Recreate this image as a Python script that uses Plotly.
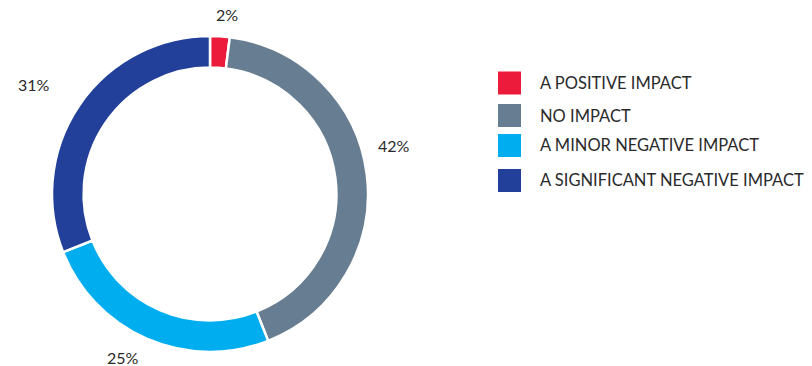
import plotly.graph_objects as go

labels = ["A POSITIVE IMPACT", "NO IMPACT", "A MINOR NEGATIVE IMPACT", "A SIGNIFICANT NEGATIVE IMPACT"]
values = [2, 42, 25, 31]
colors = ["#EC1B3B", "#677D91", "#00AEEF", "#22409A"]

W, H = 812, 366
cx, cy, R = 210, 194, 158

fig = go.Figure(go.Pie(
    labels=labels, values=values, sort=False, direction="clockwise", rotation=0,
    hole=0.80, textinfo="none", hoverinfo="label+percent",
    marker=dict(colors=colors, line=dict(color="white", width=2.5)),
    domain=dict(x=[(cx - R) / W, (cx + R) / W], y=[(H - cy - R) / H, (H - cy + R) / H]),
    showlegend=False,
))

FONT = "Lato, Open Sans, sans-serif"
# percentage label positions (pixel centres) – layout only
label_pos = [(227, 14), (394, 145), (123, 357), (34, 84)]
annotations = []
for v, (px, py) in zip(values, label_pos):
    annotations.append(dict(text=f"{v}%", x=px / W, y=1 - py / H, xref="paper", yref="paper",
                            xanchor="center", yanchor="middle", showarrow=False,
                            font=dict(family=FONT, size=16, color="#2a2a2a")))

legend_y = [83, 115.5, 145.5, 180.5]
shapes = []
for lab, col, ly in zip(labels, colors, legend_y):
    shapes.append(dict(type="rect", xref="paper", yref="paper",
                       x0=498 / W, x1=521 / W, y0=1 - (ly - 11.5) / H, y1=1 - (ly + 11.5) / H,
                       fillcolor=col, line=dict(width=0)))
    annotations.append(dict(text=lab, x=538 / W, y=1 - ly / H, xref="paper", yref="paper",
                            xanchor="left", yanchor="middle", showarrow=False,
                            font=dict(family=FONT, size=16.5, color="#2a2a2a")))

fig.update_layout(width=W, height=H, margin=dict(l=0, r=0, t=0, b=0),
                  paper_bgcolor="white", plot_bgcolor="white",
                  annotations=annotations, shapes=shapes)

fig.write_html("out.html", config={"displayModeBar": False},
               post_script="document.body.style.margin='0';document.body.style.overflow='hidden';")
